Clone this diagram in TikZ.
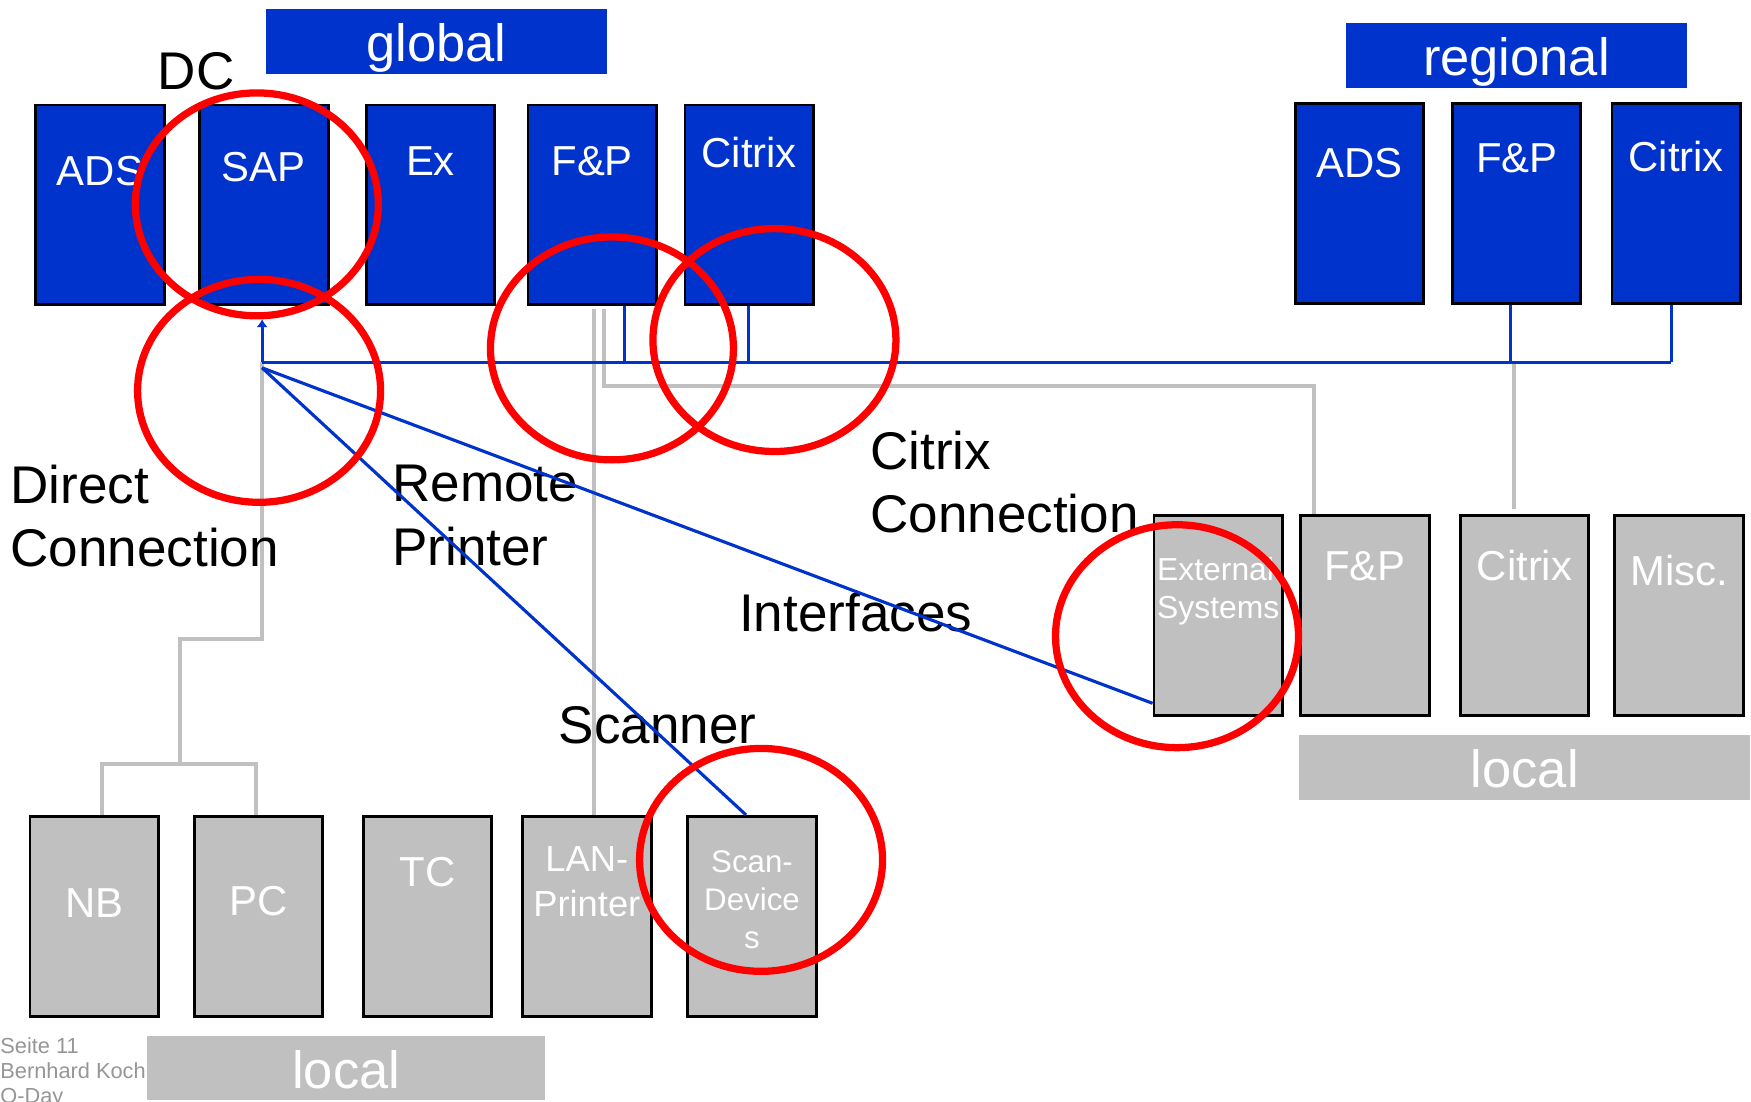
\documentclass[tikz,border=0pt]{standalone}
\usepackage{fontspec}
\setmainfont{Liberation Sans}
\usetikzlibrary{arrows.meta}
\definecolor{dcblue}{RGB}{0,51,204}
\definecolor{lgray}{RGB}{192,192,192}
\definecolor{ftgray}{RGB}{150,150,150}

\begin{document}
\begin{tikzpicture}[x=0.5pt,y=-0.5pt,>={Latex[length=3.5pt,width=5pt]},
  srv/.style={draw=black,line width=1.3pt,minimum width=57.5pt,inner sep=0pt,
    align=center,text=white,font=\fontsize{18.75}{22}\selectfont,
    text height=#1,text depth=89.5pt-#1},
  gsrv/.style={srv=#1,fill=dcblue},
  lsrv/.style={srv=#1,fill=lgray},
  banner/.style={minimum height=29pt,inner sep=0pt,text=white,
    font=\fontsize{23.5}{28}\selectfont,text height=18pt,text depth=0pt},
  lbl/.style={inner sep=0pt,align=left,anchor=base west,
    font=\fontsize{23.75}{28.25}\selectfont},
  gline/.style={draw=lgray,line width=1.75pt},
  bline/.style={draw=dcblue,line width=1.4pt},
  ring/.style={draw=red,line width=3.25pt}]
  \useasboundingbox (0,0) rectangle (1568,986);

  \node[banner,fill=dcblue,minimum width=153pt] (global) at (391,37) {global};
  \node[banner,fill=dcblue,minimum width=153pt] (regional) at (1358,49.4) {regional};
  \node[banner,fill=lgray,minimum width=202pt] (localr) at (1365.5,687.3) {local};
  \node[banner,fill=lgray,minimum width=178.35pt] (localb) at (310,956.3) {local};

  \node[gsrv=35.9pt] (adsg) at (89.5,183.5) {ADS};
  \node[gsrv=34.25pt,node distance=73.4pt] (sapg) [right of=adsg] {SAP};
  \node[gsrv=31.5pt,node distance=74.6pt] (exg) [right of=sapg] {Ex};
  \node[gsrv=31.5pt,node distance=72.4pt] (fpg) [right of=exg] {F\&P};
  \node[gsrv=28pt,node distance=70.3pt] (ctxg) [right of=fpg] {Citrix};

  \node[gsrv=33.25pt] (adsr) at (1217.3,182.2) {ADS};
  \node[gsrv=31pt,node distance=70.45pt] (fpr) [right of=adsr] {F\&P};
  \node[gsrv=30.25pt,node distance=71.4pt] (ctxr) [right of=fpr] {Citrix};

  \node[lsrv=46pt,align=left,font=\fontsize{14.25}{17}\selectfont] (ext) at (1090.9,551) {External\\Systems};
  \node[lsrv=29pt,node distance=65.7pt] (fpl) [right of=ext] {F\&P};
  \node[lsrv=29pt,node distance=71.45pt] (ctxl) [right of=fpl] {Citrix};
  \node[lsrv=31.5pt,node distance=69.2pt] (misc) [right of=ctxl] {Misc.};

  \node[lsrv=45.2pt] (nb) at (84.4,820.5) {NB};
  \node[lsrv=44.5pt,node distance=73.55pt] (pc) [right of=nb] {PC};
  \node[lsrv=31.25pt,node distance=75.6pt] (tc) [right of=pc] {TC};
  \node[lsrv=44.7pt,node distance=71.4pt,font=\fontsize{16.25}{20}\selectfont] (lan) [right of=tc] {LAN-\\Printer};
  \node[lsrv=59.2pt,node distance=73.95pt,font=\fontsize{14}{17}\selectfont] (scan) [right of=lan] {Scan-\\Device\\s};

  \coordinate (hub) at (234.7,324.6);
  \coordinate (hubd) at (234.7,329.4);
  \coordinate (dc1) at (234.7,572.6);
  \coordinate (dc2) at (161.5,684);
  \coordinate (nbtap) at (91,684);
  \coordinate (pctap) at (229.6,684);
  \coordinate (lantap) at (531.7,277);
  \coordinate (fptap) at (540.7,277);
  \coordinate (fpdrop) at (1176.5,345.4);
  \coordinate (fpgtap) at (559,324.6);
  \coordinate (ctxgtap) at (670,324.6);
  \coordinate (fprtap) at (1353,324.6);
  \coordinate (ctxrtap) at (1496.4,324.6);
  \coordinate (rtap) at (1355.6,326);
  \coordinate (rend) at (1355.6,455.7);

  \draw[gline] (hub) -- (dc1) -| (dc2);
  \draw[gline] (nbtap |- nb.north) -- (nbtap) -- (pctap) -- (pctap |- pc.north);
  \draw[gline] (lantap) -- (lantap |- lan.north);
  \draw[gline] (fptap) |- (fpdrop) -- (fpdrop |- fpl.north);
  \draw[gline] (rtap) -- (rend);

  \node[lbl] (dc) at (141,80) {DC};
  \node[lbl] (direct) at (9,507.6) {Direct\\Connection};
  \node[lbl] (remote) at (351,506) {Remote\\Printer};
  \node[lbl] (citrixcon) at (779,476.5) {Citrix\\Connection};
  \node[lbl] (iface) at (661.5,565.3) {Interfaces};
  \node[lbl] (scanner) at (500,666) {Scanner};
  \node[lbl,text=ftgray,font=\fontsize{9.75}{11.25}\selectfont] (footer) at (0,988.3) {Seite 11\\Bernhard Koch\\Q-Day};

  \draw[bline] (hub) -- (ctxrtap);
  \draw[bline,->,shorten >=5.8pt] (hub) -- (hub |- sapg.south);
  \draw[bline] (fpgtap |- fpg.south) -- (fpgtap);
  \draw[bline] (ctxgtap |- ctxg.south) -- (ctxgtap);
  \draw[bline] (fprtap |- fpr.south) -- (fprtap);
  \draw[bline] (ctxrtap |- ctxr.south) -- (ctxrtap);
  \draw[bline] (hubd) -- ([xshift=-2.7pt]scan.north);
  \draw[bline] (hubd) -- ([yshift=6pt]ext.south west);

  \draw[ring] (230,183) ellipse [x radius=54.4pt,y radius=49.9pt];
  \draw[ring] (232,350) ellipse [x radius=54.4pt,y radius=49.9pt];
  \draw[ring] (548,312) ellipse [x radius=54.4pt,y radius=49.9pt];
  \draw[ring] (693.5,304.5) ellipse [x radius=54.4pt,y radius=49.9pt];
  \draw[ring] (1054,569.7) ellipse [x radius=54.4pt,y radius=49.9pt];
  \draw[ring] (681.5,770) ellipse [x radius=54.4pt,y radius=49.9pt];
\end{tikzpicture}
\end{document}
